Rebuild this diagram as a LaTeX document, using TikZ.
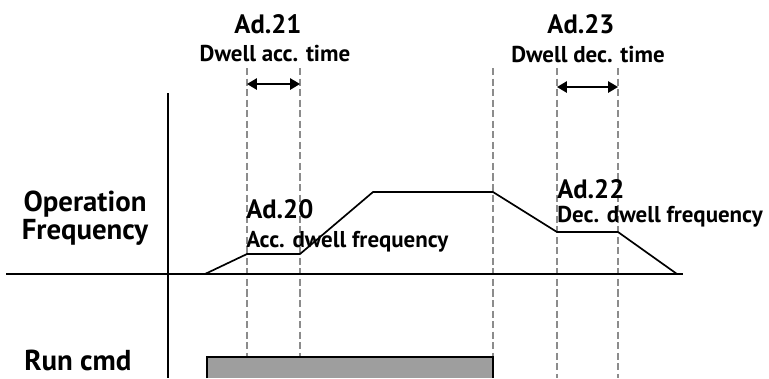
\documentclass[tikz,border=0pt]{standalone}
\usepackage{fontspec}
\setmainfont{PT Sans}
\usetikzlibrary{arrows.meta}

\begin{document}
\begin{tikzpicture}[
    x=0.025cm, y=-0.025cm,
    axis/.style={line width=1.8pt},
    curve/.style={line width=1.2pt, line join=miter},
    guide/.style={color=black!45, dash pattern=on 5pt off 2.5pt, line width=0.9pt},
    span/.style={{Triangle[length=7pt,width=8pt]}-{Triangle[length=7pt,width=8pt]}, line width=1.2pt},
    big/.style={font=\fontsize{18.9}{18.9}\selectfont\bfseries},
    small/.style={font=\fontsize{16.3}{16.3}\selectfont\bfseries},
    side/.style={font=\fontsize{20.5}{17.8}\selectfont\bfseries},
    every node/.style={inner sep=0pt}
]
\useasboundingbox (0,0) rectangle (769,378);
% guide lines
\foreach \gx [count=\i] in {247,300,493,557,618} {
    \coordinate (guide_top_\i) at (\gx,68);
    \coordinate (guide_bottom_\i) at (\gx,378);
    \draw[guide] (guide_top_\i) -- (guide_bottom_\i);
}
% axes
\coordinate (axis_left) at (6,274);
\coordinate (axis_right) at (683,274);
\coordinate (axis_top) at (168,93);
\coordinate (axis_bottom) at (168,378);
\draw[axis] (axis_left) -- (axis_right);
\draw[axis] (axis_top) -- (axis_bottom);
% frequency profile
\coordinate (freq_start) at (205,274);
\coordinate (acc_dwell_begin) at (247,254);
\coordinate (acc_dwell_end) at (300,254);
\coordinate (max_begin) at (373,192);
\coordinate (max_end) at (493,192);
\coordinate (dec_dwell_begin) at (557,232);
\coordinate (dec_dwell_end) at (618,232);
\coordinate (freq_stop) at (677,274);
\draw[curve] (freq_start) -- (acc_dwell_begin) -- (acc_dwell_end) -- (max_begin) -- (max_end) -- (dec_dwell_begin) -- (dec_dwell_end) -- (freq_stop);
% run command
\coordinate (run_cmd_sw) at (207,378);
\coordinate (run_cmd_nw) at (207,357);
\coordinate (run_cmd_ne) at (493,357);
\coordinate (run_cmd_se) at (493,378);
\fill[black!38] (run_cmd_sw) rectangle (run_cmd_ne);
\draw[line width=1.2pt] (run_cmd_sw) -- (run_cmd_nw) -- (run_cmd_ne) -- (run_cmd_se);
% dwell times
\coordinate (acc_span_left) at (247,84);
\coordinate (acc_span_right) at (300,84);
\coordinate (dec_span_left) at (557,87);
\coordinate (dec_span_right) at (618,87);
\draw[span] (acc_span_left) -- (acc_span_right);
\draw[span] (dec_span_left) -- (dec_span_right);
% labels
\node (ad21) [big, anchor=base] at (268,33) {Ad.21};
\node (ad21_text) [small, anchor=base] at (275,61) {Dwell acc. time};
\node (ad23) [big, anchor=base] at (581,33) {Ad.23};
\node (ad23_text) [small, anchor=base] at (588,62) {Dwell dec. time};
\node (ad20) [big, anchor=base west] at (246,218) {Ad.20};
\node (ad20_text) [small, anchor=base west] at (246,247) {Acc. dwell frequency};
\node (ad22) [big, anchor=base west] at (557,198) {Ad.22};
\node (ad22_text) [small, anchor=base west] at (557,222) {Dec. dwell frequency};
\node (op_freq) [side, align=center] at (85,218) {Operation\\Frequency};
\node (run_cmd) [side, anchor=base west] at (24,370) {Run cmd};
\end{tikzpicture}
\end{document}
